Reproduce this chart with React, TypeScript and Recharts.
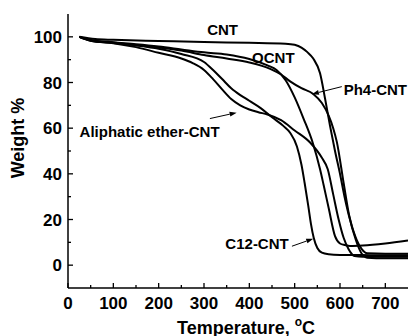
import React from 'react';
import { LineChart, Line, XAxis, YAxis, ReferenceDot, ReferenceLine } from 'recharts';

const FONT = '"Liberation Sans", Arial, Helvetica, sans-serif';

// ---- data (temperature in °C, weight %) ----
const cntTemp = [25, 60, 100, 200, 300, 400, 480, 500, 515, 528, 541, 556, 567, 578, 589, 600, 610, 622, 637, 648, 660, 700, 750];
const cntWeight = [100, 99, 98.7, 98.2, 97.7, 97.4, 97, 96.5, 95.3, 93.3, 90.5, 84, 73, 61, 50, 40, 30, 20, 11, 7, 5.2, 5.0, 5.0];

const ocntTemp = [25, 50, 100, 150, 200, 250, 300, 350, 400, 440, 460, 480, 500, 520, 540, 556, 564, 575, 589, 600, 611, 622, 650, 700, 750];
const ocntWeight = [100, 98.6, 97.6, 96.8, 95.8, 94.5, 93.2, 92.3, 90.3, 87.5, 85.5, 81, 73.5, 64, 53.5, 42, 35, 25, 12.7, 9.5, 8.8, 8.4, 8.6, 9.5, 10.8];

const ph4Temp = [25, 50, 100, 150, 200, 250, 300, 350, 400, 446, 470, 490, 515, 541, 560, 575, 585, 593, 608, 620, 635, 648, 660, 700, 750];
const ph4Weight = [100, 98.3, 97.3, 96.3, 95.3, 94, 92, 90.5, 88.8, 86, 83.5, 80.5, 77.5, 75, 71, 65.5, 60, 54, 36, 22, 11, 5, 3.3, 3.0, 3.0];

const aliTemp = [25, 50, 100, 150, 200, 250, 275, 300, 320, 340, 360, 380, 400, 420, 440, 470, 500, 534, 560, 573, 585, 597, 608, 619, 632, 650, 700, 750];
const aliWeight = [100, 98.3, 97.2, 95.5, 93, 90.5, 88.5, 85.5, 81.5, 77, 72.8, 70, 68.2, 67, 66, 63.5, 59, 53.7, 47, 42, 31, 20, 12, 7, 4, 3.7, 3.7, 3.7];

const c12Temp = [25, 50, 100, 150, 200, 250, 300, 320, 340, 360, 380, 400, 425, 450, 475, 490, 505, 515, 522, 530, 536, 542, 550, 560, 575, 600, 650, 700, 750];
const c12Weight = [100, 98.5, 97.5, 96.3, 94.8, 92.5, 89, 85.5, 81.5, 77.5, 74.5, 72, 68.8, 64.8, 61, 58, 52, 44, 36, 26, 18, 12, 7.5, 5.5, 4.8, 4.5, 4.4, 4.3, 4.3];

const xTicks = [0, 50, 100, 150, 200, 250, 300, 350, 400, 450, 500, 550, 600, 650, 700];
const yTicks = [0, 10, 20, 30, 40, 50, 60, 70, 80, 90, 100];

const toPoints = (t: number[], w: number[]) => t.map((v, i) => ({ t: v, w: w[i] }));

const series = [
  { name: 'CNT', data: toPoints(cntTemp, cntWeight) },
  { name: 'OCNT', data: toPoints(ocntTemp, ocntWeight) },
  { name: 'Ph4-CNT', data: toPoints(ph4Temp, ph4Weight) },
  { name: 'Aliphatic ether-CNT', data: toPoints(aliTemp, aliWeight) },
  { name: 'C12-CNT', data: toPoints(c12Temp, c12Weight) },
];

// annotation text (data coords)
const labels = [
  { text: 'CNT', x: 341, y: 103 },
  { text: 'OCNT', x: 453, y: 90.7 },
  { text: 'Ph4-CNT', x: 678, y: 77 },
  { text: 'Aliphatic ether-CNT', x: 180, y: 58.4 },
  { text: 'C12-CNT', x: 417, y: 9.5 },
];
const arrows = [
  { from: { x: 604, y: 78.2 }, to: { x: 538, y: 74.9 } },
  { from: { x: 313, y: 64.2 }, to: { x: 372, y: 66.8 } },
  { from: { x: 494, y: 8.3 }, to: { x: 541, y: 11.6 } },
];

const isMajorX = (v: number) => v % 100 === 0;
const isMajorY = (v: number) => v % 20 === 0;

const BottomTick = (p: any) => {
  const { x, y, payload } = p;
  const major = isMajorX(payload.value);
  return (
    <g>
      <line x1={x} x2={x} y1={y} y2={y - (major ? 5 : 3)} stroke="#000" strokeWidth={1.3} />
      {major && (
        <text x={x} y={y + 20.5} textAnchor="middle" fontFamily={FONT} fontWeight="bold" fontSize={17} fill="#000">
          {payload.value}
        </text>
      )}
    </g>
  );
};

const TopTick = (p: any) => {
  const { x, y, payload } = p;
  const major = isMajorX(payload.value);
  return <line x1={x} x2={x} y1={y} y2={y + (major ? 5 : 3)} stroke="#000" strokeWidth={1.3} />;
};

const LeftTick = (p: any) => {
  const { x, y, payload } = p;
  const major = isMajorY(payload.value);
  return (
    <g>
      <line x1={x} x2={x + (major ? 5 : 3)} y1={y} y2={y} stroke="#000" strokeWidth={1.3} />
      {major && (
        <text x={x - 6} y={y} dy="0.36em" textAnchor="end" fontFamily={FONT} fontWeight="bold" fontSize={17} fill="#000">
          {payload.value}
        </text>
      )}
    </g>
  );
};

const RightTick = (p: any) => {
  const { x, y, payload } = p;
  const major = isMajorY(payload.value);
  return <line x1={x} x2={x - (major ? 5 : 3)} y1={y} y2={y} stroke="#000" strokeWidth={1.3} />;
};

const YTitle = () => (
  <text
    transform="translate(24,138) rotate(-90)"
    textAnchor="middle"
    fontFamily={FONT}
    fontWeight="bold"
    fontSize={18}
    fill="#000"
  >
    Weight %
  </text>
);

const XTitle = () => (
  <text x={246} y={333.5} textAnchor="middle" fontFamily={FONT} fontWeight="bold" fontSize={18} fill="#000">
    Temperature,{' '}
    <tspan fontSize={12} dy={-8}>o</tspan>
    <tspan dy={8}>C</tspan>
  </text>
);

const ArrowShape = (p: any) => {
  const { x1, y1, x2, y2 } = p;
  const ang = Math.atan2(y2 - y1, x2 - x1);
  const len = 7;
  const w = 2.5;
  const bx = x2 - len * Math.cos(ang);
  const by = y2 - len * Math.sin(ang);
  const px = -Math.sin(ang) * w;
  const py = Math.cos(ang) * w;
  return (
    <g>
      <line x1={x1} y1={y1} x2={bx} y2={by} stroke="#000" strokeWidth={1} />
      <polygon points={`${x2},${y2} ${bx + px},${by + py} ${bx - px},${by - py}`} fill="#000" />
    </g>
  );
};

export default function App() {
  return (
    <div style={{ position: 'absolute', left: 0, top: 0, width: 408, height: 336, background: '#fff' }}>
      <LineChart width={408} height={336} margin={{ top: 14, right: 0, bottom: 0, left: 0 }}>
        <XAxis
          dataKey="t"
          type="number"
          domain={[0, 750]}
          ticks={xTicks}
          interval={0}
          allowDataOverflow
          height={48}
          tickSize={0}
          tickMargin={0}
          tick={<BottomTick />}
          axisLine={{ stroke: '#000', strokeWidth: 1.5 }}
          label={<XTitle />}
        />
        <XAxis
          xAxisId="top"
          orientation="top"
          type="number"
          domain={[0, 750]}
          ticks={xTicks}
          interval={0}
          allowDataOverflow
          height={0}
          tickSize={0}
          tickMargin={0}
          tick={<TopTick />}
          axisLine={{ stroke: '#000', strokeWidth: 1.5 }}
        />
        <YAxis
          type="number"
          domain={[-10, 110]}
          ticks={yTicks}
          interval={0}
          allowDataOverflow
          width={68}
          tickSize={0}
          tickMargin={0}
          tick={<LeftTick />}
          axisLine={{ stroke: '#000', strokeWidth: 1.5 }}
          label={<YTitle />}
        />
        <YAxis
          yAxisId="right"
          orientation="right"
          type="number"
          domain={[-10, 110]}
          ticks={yTicks}
          interval={0}
          allowDataOverflow
          width={0}
          tickSize={0}
          tickMargin={0}
          tick={<RightTick />}
          axisLine={{ stroke: '#000', strokeWidth: 1.5 }}
        />
        {series.map((s) => (
          <Line
            key={s.name}
            name={s.name}
            data={s.data}
            dataKey="w"
            type="monotone"
            stroke="#000"
            strokeWidth={2}
            dot={false}
            activeDot={false}
            isAnimationActive={false}
          />
        ))}
        {arrows.map((a, i) => (
          <ReferenceLine key={'a' + i} segment={[a.from, a.to]} shape={<ArrowShape />} ifOverflow="visible" />
        ))}
        {labels.map((l) => (
          <ReferenceDot
            key={l.text}
            x={l.x}
            y={l.y}
            r={0}
            ifOverflow="visible"
            shape={(p: any) => (
              <text
                x={p.cx}
                y={p.cy}
                dy="0.36em"
                textAnchor="middle"
                fontFamily={FONT}
                fontWeight="bold"
                fontSize={15}
                fill="#000"
              >
                {l.text}
              </text>
            )}
          />
        ))}
      </LineChart>
    </div>
  );
}
